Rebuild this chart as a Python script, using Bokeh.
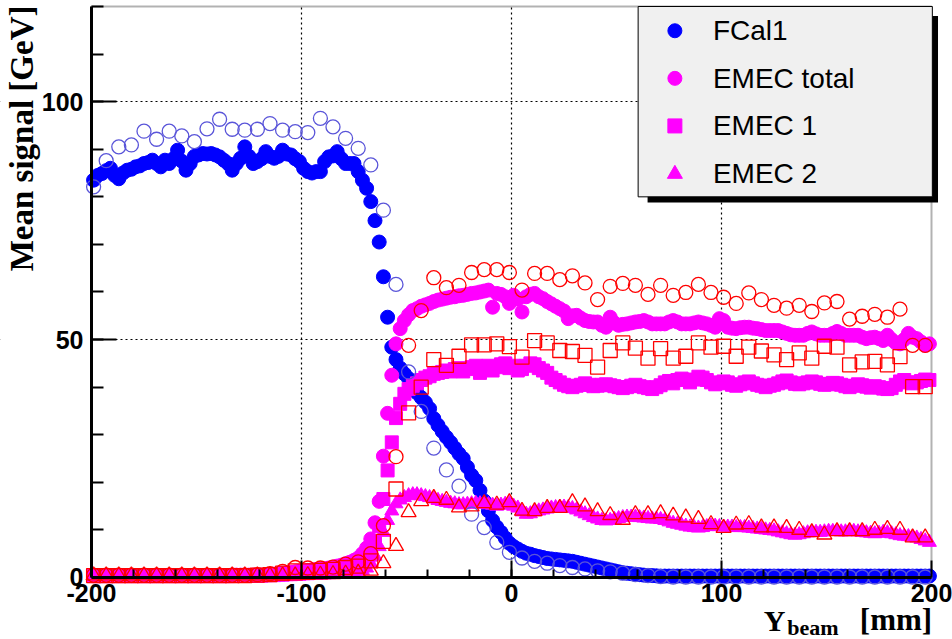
import numpy as np
from bokeh.plotting import figure
from bokeh.models import Range1d, FixedTicker, Label, BoxAnnotation
from bokeh.embed import file_html
from bokeh.resources import INLINE

# ---------------- data ----------------
# measured points every 2 mm
x_data = list(range(-199, 200, 2))
# simulation points every 6 mm
x_mc = list(range(-199, 198, 6))

fcal1 = [
    83.5, 84.5, 84.9, 85.5, 86.0, 84.5, 83.8, 85.0, 85.6, 85.8,
    86.3, 86.5, 87.0, 87.2, 87.7, 87.0, 86.3, 87.7, 87.0, 88.0,
    89.8, 87.5, 85.6, 87.0, 88.5, 88.8, 89.1, 89.0, 89.1, 88.8,
    88.4, 87.7, 87.0, 85.6, 87.0, 88.1, 90.5, 88.5, 87.0, 87.4,
    88.0, 89.5, 88.5, 88.1, 88.5, 89.8, 89.0, 88.8, 88.0, 87.4,
    86.0, 85.3, 85.0, 85.3, 85.3, 87.4, 88.4, 88.6, 89.5, 88.0,
    87.0, 87.0, 87.0, 85.3, 83.5, 81.8, 79.0, 75.0, 70.5, 63.2,
    54.7, 48.4, 45.8, 44.0, 42.8, 41.8, 40.5, 38.8, 37.8, 36.8,
    35.5, 33.4, 32.0, 30.7, 29.5, 28.4, 27.2, 26.0, 25.0, 23.2,
    21.5, 20.4, 18.3, 16.1, 14.0, 12.0, 10.6, 9.5, 8.3, 7.2,
    6.5, 6.0, 5.5, 5.1, 4.9, 4.6, 4.4, 4.2, 4.0, 3.9,
    3.8, 3.7, 3.6, 3.5, 3.4, 3.2, 3.0, 2.8, 2.6, 2.4,
    2.2, 2.0, 1.8, 1.6, 1.4, 1.2, 1.0, 0.9, 0.8, 0.7,
    0.6, 0.5, 0.45, 0.4, 0.35, 0.3, 0.3, 0.3, 0.3, 0.3,
    0.3, 0.3, 0.3, 0.3, 0.3, 0.3, 0.3, 0.3, 0.3, 0.3,
    0.3, 0.3, 0.3, 0.3, 0.3, 0.3, 0.3, 0.3, 0.3, 0.3,
    0.3, 0.3, 0.3, 0.3, 0.3, 0.3, 0.3, 0.3, 0.3, 0.3,
    0.3, 0.3, 0.3, 0.3, 0.3, 0.3, 0.3, 0.3, 0.3, 0.3,
    0.3, 0.3, 0.3, 0.3, 0.3, 0.3, 0.3, 0.3, 0.3, 0.3,
    0.3, 0.3, 0.3, 0.3, 0.3, 0.3, 0.3, 0.3, 0.3, 0.3,
]

emec_total = [
    0.4, 0.4, 0.4, 0.4, 0.4, 0.4, 0.4, 0.4, 0.4, 0.4,
    0.4, 0.4, 0.4, 0.4, 0.4, 0.4, 0.4, 0.4, 0.4, 0.4,
    0.4, 0.4, 0.4, 0.4, 0.4, 0.4, 0.4, 0.4, 0.4, 0.4,
    0.4, 0.4, 0.4, 0.5, 0.5, 0.5, 0.5, 0.5, 0.5, 0.5,
    0.5, 0.6, 0.6, 0.7, 0.8, 0.9, 1.0, 1.1, 1.2, 1.3,
    1.4, 1.5, 1.6, 1.7, 1.8, 1.9, 2.0, 2.2, 2.4, 2.6,
    2.9, 3.2, 3.6, 4.1, 5.0, 6.2, 8.1, 11.5, 16.0, 25.5,
    34.5, 42.5, 49.1, 52.3, 54.0, 55.2, 56.1, 56.5, 57.0, 57.3,
    57.6, 58.0, 58.3, 58.5, 58.7, 58.9, 59.0, 59.2, 59.3, 59.5,
    59.7, 59.8, 60.0, 60.2, 60.4, 56.8, 59.7, 59.5, 59.0, 57.6,
    59.3, 58.5, 55.8, 59.0, 59.5, 59.7, 59.0, 58.6, 58.0, 57.5,
    57.0, 56.5, 56.0, 54.4, 55.0, 55.1, 54.5, 54.0, 53.8, 53.7,
    53.7, 53.0, 52.6, 54.7, 53.5, 53.0, 53.2, 53.3, 53.5, 53.7,
    53.8, 54.0, 53.7, 53.3, 53.3, 53.3, 53.3, 53.7, 54.0, 53.7,
    53.3, 53.3, 53.3, 53.5, 53.7, 53.5, 53.3, 53.0, 52.6, 54.4,
    54.0, 52.6, 52.4, 52.3, 52.5, 52.6, 52.6, 52.4, 52.3, 52.1,
    51.9, 51.9, 51.9, 51.9, 51.6, 51.3, 51.0, 50.9, 50.9, 50.9,
    51.3, 51.6, 51.2, 50.9, 50.9, 50.9, 51.3, 51.7, 51.3, 50.9,
    50.9, 50.9, 50.9, 50.5, 50.2, 50.4, 50.5, 50.2, 49.8, 50.9,
    50.0, 49.3, 49.1, 50.0, 51.3, 50.5, 50.2, 49.5, 48.8, 49.1,
]

emec1 = [
    0.3, 0.3, 0.3, 0.3, 0.3, 0.3, 0.3, 0.3, 0.3, 0.3,
    0.3, 0.3, 0.3, 0.3, 0.3, 0.3, 0.3, 0.3, 0.3, 0.3,
    0.3, 0.3, 0.3, 0.3, 0.3, 0.3, 0.3, 0.3, 0.3, 0.3,
    0.3, 0.3, 0.3, 0.3, 0.4, 0.4, 0.4, 0.4, 0.4, 0.4,
    0.4, 0.5, 0.5, 0.5, 0.6, 0.6, 0.7, 0.7, 0.8, 0.8,
    0.9, 0.9, 1.0, 1.0, 1.1, 1.1, 1.2, 1.3, 1.4, 1.5,
    1.7, 1.8, 2.0, 2.4, 2.9, 3.6, 4.8, 7.2, 10.8, 16.5,
    22.5, 28.4, 33.5, 36.5, 38.6, 39.6, 40.3, 40.8, 41.5, 42.0,
    42.3, 42.8, 43.0, 43.2, 43.5, 43.3, 43.8, 44.0, 43.3, 43.8,
    44.2, 44.5, 43.0, 44.0, 44.5, 43.5, 44.2, 44.8, 45.0, 44.0,
    44.5, 43.5, 43.8, 44.5, 45.0, 44.8, 44.0, 43.5, 43.0, 42.0,
    41.5, 41.0, 40.5, 40.2, 40.0, 40.3, 40.5, 40.8, 40.5, 40.2,
    40.3, 40.5, 40.6, 40.4, 40.2, 40.0, 39.8, 40.0, 40.3, 40.5,
    40.2, 40.0, 39.8, 39.6, 40.0, 40.4, 41.0, 41.3, 40.8, 41.5,
    41.8, 41.5, 41.0, 41.6, 42.2, 42.0, 41.5, 41.0, 40.6, 40.8,
    41.2, 41.0, 40.5, 40.3, 40.6, 41.0, 41.2, 40.8, 40.5, 40.3,
    40.0, 40.3, 40.5, 40.8, 41.2, 41.4, 41.0, 40.7, 40.6, 40.8,
    41.0, 41.2, 41.0, 40.7, 40.5, 40.6, 40.9, 40.8, 40.5, 40.2,
    40.0, 40.3, 40.6, 40.4, 40.1, 39.9, 40.2, 40.0, 39.7, 39.6,
    39.8, 40.5, 41.2, 41.5, 41.0, 40.8, 41.0, 41.3, 41.6, 41.5,
]

emec2 = [
    0.3, 0.3, 0.3, 0.3, 0.3, 0.3, 0.3, 0.3, 0.3, 0.3,
    0.3, 0.3, 0.3, 0.3, 0.3, 0.3, 0.3, 0.3, 0.3, 0.3,
    0.3, 0.3, 0.3, 0.3, 0.3, 0.3, 0.3, 0.3, 0.3, 0.3,
    0.3, 0.3, 0.3, 0.3, 0.3, 0.3, 0.3, 0.3, 0.3, 0.3,
    0.3, 0.3, 0.3, 0.3, 0.4, 0.4, 0.4, 0.4, 0.4, 0.4,
    0.5, 0.5, 0.5, 0.5, 0.6, 0.6, 0.6, 0.7, 0.7, 0.8,
    0.8, 0.9, 1.0, 1.2, 1.5, 2.0, 3.0, 4.5, 6.5, 9.5,
    12.0, 14.0, 15.5, 16.3, 16.8, 17.2, 17.4, 17.4, 17.2, 17.0,
    16.8, 16.5, 16.2, 16.0, 15.8, 15.6, 15.5, 15.3, 15.3, 15.4,
    15.5, 15.6, 15.5, 15.4, 15.3, 15.2, 15.0, 15.2, 15.4, 15.5,
    15.0, 14.6, 13.8, 13.3, 13.4, 13.8, 14.0, 14.2, 14.4, 14.6,
    14.7, 14.8, 14.8, 14.7, 14.5, 14.2, 13.8, 13.4, 13.0, 12.6,
    12.3, 12.0, 11.9, 12.0, 12.2, 12.4, 12.6, 12.7, 12.7, 12.7,
    12.6, 12.5, 12.4, 12.3, 12.3, 12.2, 12.0, 11.7, 11.4, 11.2,
    11.0, 10.8, 10.6, 10.5, 10.4, 10.5, 10.7, 10.8, 10.8, 10.7,
    10.6, 10.6, 10.6, 10.5, 10.5, 10.5, 10.4, 10.3, 10.2, 10.1,
    10.0, 9.9, 9.8, 9.6, 9.4, 9.2, 9.0, 8.9, 9.0, 9.2,
    9.4, 9.5, 9.5, 9.5, 9.6, 9.7, 9.7, 9.7, 9.6, 9.6,
    9.7, 9.7, 9.6, 9.5, 9.4, 9.3, 9.2, 9.3, 9.5, 9.4,
    9.2, 9.0, 8.8, 8.7, 8.6, 8.5, 8.3, 8.0, 7.7, 7.4,
]

fcal1_mc = [
    82.1, 87.6, 90.5, 90.9, 93.8, 92.1, 93.8, 92.8, 91.6, 94.3,
    96.3, 94.2, 94.0, 94.2, 95.4, 94.0, 93.7, 93.5, 96.5, 94.7,
    92.3, 90.2, 86.7, 77.2, 61.6, 43.2, 34.9, 27.2, 22.6, 19.2,
    13.3, 10.5, 7.4, 5.3, 4.1, 3.4, 3.0, 2.5, 2.1, 1.8,
    1.4, 1.2, 0.9, 0.6, 0.4, 0.2, 0.1, 0.1, 0.1, 0.1,
    0.1, 0.1, 0.1, 0.1, 0.1, 0.1, 0.1, 0.1, 0.1, 0.1,
    0.1, 0.1, 0.1, 0.1, 0.1, 0.1, 0.1,
]

emec_total_mc = [
    0.5, 0.5, 0.5, 0.5, 0.5, 0.5, 0.5, 0.5, 0.5, 0.5,
    0.5, 0.5, 0.5, 0.6, 0.8, 1.3, 2.1, 2.0, 2.0, 2.2,
    2.8, 3.3, 5.0, 10.9, 25.4, 48.8, 56.1, 63.0, 60.9, 61.4,
    64.1, 64.7, 64.7, 64.1, 60.4, 63.9, 63.9, 62.6, 63.4, 61.9,
    58.4, 61.2, 61.8, 61.4, 59.5, 61.4, 59.3, 59.9, 61.6, 59.9,
    58.9, 57.6, 59.8, 58.4, 57.2, 56.6, 57.2, 55.9, 57.7, 58.0,
    54.3, 54.9, 55.3, 54.7, 56.4, 48.8, 48.8,
]

emec1_mc = [
    0.4, 0.4, 0.4, 0.4, 0.4, 0.4, 0.4, 0.4, 0.4, 0.4,
    0.4, 0.4, 0.4, 0.5, 0.6, 0.9, 1.4, 1.4, 1.5, 1.7,
    2.1, 2.4, 3.5, 7.6, 18.6, 34.6, 40.0, 45.8, 44.6, 46.5,
    48.9, 48.9, 49.1, 48.5, 46.3, 49.8, 49.3, 47.7, 47.5, 46.7,
    44.2, 47.7, 49.3, 48.2, 46.1, 48.1, 46.1, 46.5, 49.3, 48.4,
    48.6, 46.5, 48.4, 47.6, 46.8, 45.8, 47.2, 46.1, 48.6, 48.4,
    44.7, 45.3, 45.4, 44.7, 46.4, 40.1, 40.1,
]

emec2_mc = [
    0.4, 0.4, 0.4, 0.4, 0.4, 0.4, 0.4, 0.4, 0.4, 0.4,
    0.4, 0.4, 0.4, 0.4, 0.4, 0.4, 0.4, 0.5, 0.6, 0.7,
    0.8, 1.0, 1.4, 3.0, 6.6, 13.7, 16.0, 16.7, 16.3, 14.7,
    14.9, 15.6, 15.3, 15.8, 14.0, 13.9, 14.6, 14.6, 15.8, 14.9,
    13.9, 13.1, 12.1, 13.3, 13.3, 13.5, 13.0, 12.6, 12.3, 11.2,
    10.4, 11.1, 11.2, 10.5, 10.5, 10.4, 10.0, 9.5, 9.0, 9.7,
    9.7, 9.7, 10.0, 10.2, 10.0, 8.4, 8.4,
]

legend_labels = ["FCal1", "EMEC total", "EMEC 1", "EMEC 2"]
x_ticks = [-200, -100, 0, 100, 200]
y_ticks = [0, 50, 100]
x_lim = (-200, 200)
y_lim = (0, 120)

# ---------------- figure ----------------
BLUE = "#0000ff"
BLUE_MC = "#5a55d9"
MAGENTA = "#ff00ff"
RED = "#ff0000"

# the frame covers the whole canvas; the axes are drawn at fixed locations
p = figure(width=952, height=639, output_backend="svg", toolbar_location=None,
           x_range=Range1d(-243.33, 210.0), y_range=Range1d(-13.03, 121.26),
           min_border=0, min_border_left=0, min_border_right=0,
           min_border_top=0, min_border_bottom=0)
p.background_fill_color = "white"
p.border_fill_color = "white"
p.outline_line_color = None

xa = p.xaxis[0]
ya = p.yaxis[0]
xa.fixed_location = y_lim[0]
ya.fixed_location = x_lim[0]
xa.bounds = x_lim
ya.bounds = y_lim
xa.ticker = FixedTicker(ticks=x_ticks, minor_ticks=list(range(-180, 200, 20)))
ya.ticker = FixedTicker(ticks=y_ticks, minor_ticks=list(range(10, 121, 10)))
xa.major_label_overrides = {t: str(t) for t in x_ticks}
ya.major_label_overrides = {t: str(t) for t in y_ticks}
for ax in (xa, ya):
    ax.level = "glyph"
    ax.axis_line_width = 3
    ax.axis_line_color = "black"
    ax.major_tick_out = 0
    ax.minor_tick_out = 0
    ax.major_tick_line_width = 2
    ax.minor_tick_line_width = 2
    ax.major_tick_line_color = "black"
    ax.minor_tick_line_color = "black"
    ax.major_label_text_font = "Liberation Sans"
    ax.major_label_text_font_style = "bold"
    ax.major_label_text_font_size = "25px"
    ax.major_label_text_color = "black"
xa.major_tick_in = 17
xa.minor_tick_in = 8
ya.major_tick_in = 25
ya.minor_tick_in = 12
xa.major_label_standoff = 7
ya.major_label_standoff = 8

p.xgrid[0].ticker = FixedTicker(ticks=x_ticks[1:-1])
p.ygrid[0].ticker = FixedTicker(ticks=y_ticks[1:])
for g in (p.xgrid[0], p.ygrid[0]):
    g.grid_line_color = "black"
    g.grid_line_dash = "2 3"
    g.grid_line_width = 1.2

# white masks so that grid lines stay inside the data box
for kw in (dict(top=y_lim[0]), dict(bottom=y_lim[1]), dict(right=x_lim[0]), dict(left=x_lim[1])):
    p.add_layout(BoxAnnotation(fill_color="white", fill_alpha=1.0, line_color=None,
                               level="underlay", **kw))
# top/right frame of the data box
p.add_layout(BoxAnnotation(left=x_lim[0], right=x_lim[1], bottom=y_lim[0], top=y_lim[1],
                           fill_alpha=0.0, line_color="black", line_width=2,
                           level="underlay"))

# data markers
p.scatter(x_data, fcal1, marker="circle", size=14, fill_color=BLUE, line_color=BLUE)
p.scatter(x_data, emec_total, marker="circle", size=14, fill_color=MAGENTA, line_color=MAGENTA)
p.scatter(x_data, emec1, marker="square", size=13, fill_color=MAGENTA, line_color=MAGENTA)
p.scatter(x_data, emec2, marker="triangle", size=14, fill_color=MAGENTA, line_color=MAGENTA)
p.scatter(x_mc, fcal1_mc, marker="circle", size=14, fill_color=None, line_color=BLUE_MC, line_width=1.3)
p.scatter(x_mc, emec_total_mc, marker="circle", size=14, fill_color=None, line_color=RED, line_width=1.3)
p.scatter(x_mc, emec1_mc, marker="square", size=14, fill_color=None, line_color=RED, line_width=1.3)
p.scatter(x_mc, emec2_mc, marker="triangle", size=15, fill_color=None, line_color=RED, line_width=1.3)

# legend box with shadow
p.add_layout(BoxAnnotation(left=64.8, right=203.1, bottom=78.8, top=118.0,
                           fill_color="black", fill_alpha=1.0, line_color=None))
p.add_layout(BoxAnnotation(left=60.3, right=200.4, bottom=80.0, top=120.0,
                           fill_color="#f0f0f0", fill_alpha=1.0,
                           line_color="black", line_width=1, line_alpha=1.0))
leg_x = 77.8
leg_y = [114.9, 104.9, 94.9, 84.8]
p.scatter([leg_x], [leg_y[0]], marker="circle", size=14, fill_color=BLUE, line_color=BLUE, level="overlay")
p.scatter([leg_x], [leg_y[1]], marker="circle", size=14, fill_color=MAGENTA, line_color=MAGENTA, level="overlay")
p.scatter([leg_x], [leg_y[2]], marker="square", size=14, fill_color=MAGENTA, line_color=MAGENTA, level="overlay")
p.scatter([leg_x], [leg_y[3]], marker="triangle", size=15, fill_color=MAGENTA, line_color=MAGENTA, level="overlay")
for lab, ty in zip(legend_labels, leg_y):
    p.add_layout(Label(x=95.9, y=ty, text=lab, text_font="Liberation Sans",
                       text_font_size="28px", text_color="black",
                       text_align="left", text_baseline="middle", level="overlay"))

# axis titles
p.add_layout(Label(x=-233.1, y=120.2, text="Mean signal [GeV]", angle=np.pi / 2,
                   text_align="right", text_baseline="middle",
                   text_font="Liberation Serif", text_font_style="bold",
                   text_font_size="33px", text_color="black"))
p.add_layout(Label(x=120.1, y=-9.0, text="Y", text_align="left",
                   text_baseline="middle", text_font="Liberation Serif",
                   text_font_style="bold", text_font_size="30px", text_color="black"))
p.add_layout(Label(x=131.3, y=-10.5, text="beam", text_align="left",
                   text_baseline="middle", text_font="Liberation Serif",
                   text_font_style="bold", text_font_size="22px", text_color="black"))
p.add_layout(Label(x=200.3, y=-8.9, text="[mm]", text_align="right",
                   text_baseline="middle", text_font="Liberation Serif",
                   text_font_style="bold", text_font_size="31px", text_color="black"))

open("out.html", "w").write(file_html(p, INLINE))
